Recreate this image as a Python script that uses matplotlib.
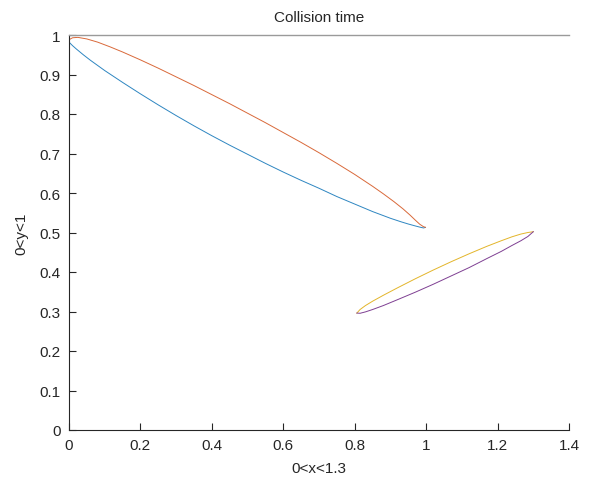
import matplotlib
matplotlib.use("Agg")
import matplotlib.pyplot as plt

# Lower arc of first loop (blue)
blue_x = [0.0, 0.01, 0.02, 0.04, 0.06, 0.08, 0.10, 0.15, 0.20, 0.25, 0.30, 0.35, 0.40, 0.45,
          0.50, 0.55, 0.60, 0.65, 0.70, 0.75, 0.80, 0.85, 0.90, 0.93, 0.95, 0.97, 0.985, 0.993, 0.998]
blue_y = [0.982, 0.973, 0.965, 0.950, 0.936, 0.923, 0.910, 0.880, 0.851, 0.823, 0.796, 0.770, 0.745, 0.721,
          0.698, 0.675, 0.653, 0.632, 0.612, 0.591, 0.572, 0.553, 0.536, 0.527, 0.5215, 0.5165, 0.513, 0.5115, 0.513]

# Upper arc of first loop (orange)
orange_x = [0.0, 0.01, 0.025, 0.05, 0.08, 0.115, 0.15, 0.20, 0.25, 0.30, 0.35, 0.40, 0.45, 0.50,
            0.55, 0.60, 0.65, 0.70, 0.75, 0.80, 0.85, 0.88, 0.91, 0.935, 0.955, 0.97, 0.982, 0.992, 0.998]
orange_y = [0.988, 0.993, 0.994, 0.990, 0.982, 0.970, 0.957, 0.937, 0.916, 0.894, 0.872, 0.849, 0.826, 0.802,
            0.778, 0.753, 0.728, 0.702, 0.675, 0.647, 0.617, 0.598, 0.578, 0.560, 0.544, 0.531, 0.521, 0.515, 0.513]

# Second loop: upper arc (yellow) and lower arc (purple)
loop2_x = [0.806, 0.815, 0.83, 0.85, 0.88, 0.92, 0.97, 1.02, 1.07, 1.12, 1.17, 1.21, 1.24, 1.265, 1.285, 1.30]
yellow_y = [0.296, 0.305, 0.315, 0.326, 0.341, 0.360, 0.383, 0.405, 0.426, 0.446, 0.465, 0.479, 0.489, 0.496, 0.500, 0.502]
purple_y = [0.296, 0.2955, 0.299, 0.305, 0.315, 0.330, 0.349, 0.369, 0.390, 0.411, 0.434, 0.452, 0.467, 0.479, 0.490, 0.502]

x_ticks = [0, 0.2, 0.4, 0.6, 0.8, 1, 1.2, 1.4]
x_tick_labels = ["0", "0.2", "0.4", "0.6", "0.8", "1", "1.2", "1.4"]
y_ticks = [0, 0.1, 0.2, 0.3, 0.4, 0.5, 0.6, 0.7, 0.8, 0.9, 1]
y_tick_labels = ["0", "0.1", "0.2", "0.3", "0.4", "0.5", "0.6", "0.7", "0.8", "0.9", "1"]

plt.rcParams['font.family'] = ['Liberation Sans', 'DejaVu Sans']

fig = plt.figure(figsize=(5.91, 4.85), dpi=100)
ax = fig.add_axes([69/591, 54/485, 500/591, 395/485])

lw = 0.7
ax.plot(blue_x, blue_y, color="#2E86C1", lw=lw, solid_joinstyle="round")
ax.plot(orange_x, orange_y, color="#D9693A", lw=lw, solid_joinstyle="round")
ax.plot(loop2_x, yellow_y, color="#E3B52A", lw=lw, solid_joinstyle="round")
ax.plot(loop2_x, purple_y, color="#7E3F92", lw=lw, solid_joinstyle="round")

ax.set_xlim(0, 1.4)
ax.set_ylim(0, 1)
ax.set_xticks(x_ticks)
ax.set_xticklabels(x_tick_labels)
ax.set_yticks(y_ticks)
ax.set_yticklabels(y_tick_labels)
ax.tick_params(direction="in", length=5, width=0.8, labelsize=11, colors="#262626",
               top=False, right=False)
ax.tick_params(axis="x", pad=6)
ax.tick_params(axis="y", pad=6)

for s in ["left", "bottom"]:
    ax.spines[s].set_color("#262626")
    ax.spines[s].set_linewidth(0.8)
ax.spines["top"].set_color("#9a9a9a")
ax.spines["top"].set_linewidth(1.0)
ax.spines["right"].set_visible(False)

ax.set_title("Collision time", fontsize=11, color="#262626", pad=10)
ax.set_xlabel("0<x<1.3", fontsize=11, color="#262626", labelpad=6)
ax.set_ylabel("0<y<1", fontsize=11, color="#262626", labelpad=8)

fig.savefig("out.png", dpi=100)
